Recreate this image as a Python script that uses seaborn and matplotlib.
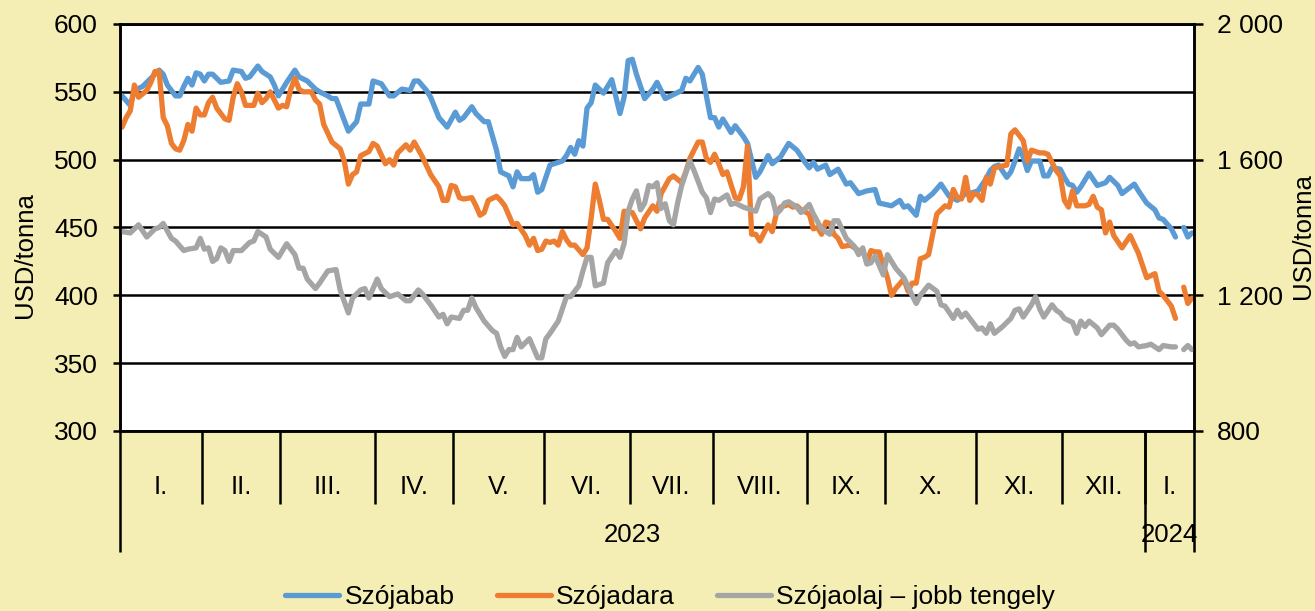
import numpy as np
import pandas as pd
import matplotlib
matplotlib.use('Agg')
import matplotlib.pyplot as plt
from matplotlib.lines import Line2D
import seaborn as sns

nan = np.nan

# x axis: trading days, grouped by month (Jan 2023 - mid Jan 2024)
month_labels = ['I.', 'II.', 'III.', 'IV.', 'V.', 'VI.', 'VII.', 'VIII.',
                'IX.', 'X.', 'XI.', 'XII.', 'I.']
month_days = [20, 19, 23, 19, 22, 21, 20, 23, 19, 22, 21, 20, 12]
year_labels = ['2023', '2024']
year_months = [12, 1]

# (trading day, USD/tonna) readings, nan = missing quote
szojabab = [
    (0, 547), (2, 540), (3, 551), (5, 554), (6, 557), (9, 566), (10, 563), (11, 555), (13, 547), (14, 547),
    (15, 554), (16, 560), (17, 555), (18, 564), (19, 563), (20, 558), (21, 563), (22, 563), (24, 557), (26, 558),
    (27, 566), (29, 565), (30, 560), (31, 561), (33, 569), (34, 565), (36, 561), (37, 555), (38, 547), (40, 557),
    (42, 566), (43, 561), (45, 558), (47, 552), (48, 550), (50, 547), (51, 545), (52, 545), (53, 537), (55, 521),
    (57, 528), (58, 541), (60, 541), (61, 558), (63, 556), (65, 547), (66, 547), (68, 552), (70, 551), (71, 558),
    (72, 558), (74, 551), (75, 546), (77, 531), (79, 524), (81, 535), (82, 529), (83, 531), (85, 539), (86, 534),
    (88, 528), (89, 528), (91, 507), (92, 491), (94, 488), (95, 480), (96, 491), (97, 486), (99, 486), (100, 489),
    (101, 476), (102, 478), (104, 496), (105, 497), (107, 499), (108, 503), (109, 509), (110, 504), (111, 514), (112, 510),
    (113, 538), (114, 542), (115, 555), (117, 549), (119, 559), (121, 534), (122, 546), (123, 573), (124, 574), (125, 563),
    (127, 545), (129, 552), (130, 557), (132, 545), (134, 548), (136, 551), (137, 560), (138, 558), (140, 568), (141, 563),
    (143, 531), (144, 531), (145, 524), (146, 530), (148, 520), (149, 525), (151, 517), (152, 512), (154, 487), (155, 491),
    (157, 503), (158, 497), (160, 502), (162, 512), (164, 507), (166, 498), (167, 494), (168, 498), (169, 493), (171, 496),
    (172, 489), (174, 493), (176, 482), (177, 483), (179, 475), (181, 477), (183, 478), (184, 468), (187, 466), (189, 470),
    (190, 465), (191, 466), (193, 459), (194, 473), (195, 470), (197, 475), (199, 482), (201, 473), (203, 470), (205, 475),
    (206, 475), (208, 477), (210, 486), (211, 492), (212, 495), (213, 496), (215, 487), (216, 491), (217, 499), (218, 508),
    (219, 502), (220, 492), (221, 499), (223, 499), (224, 488), (225, 488), (226, 494), (228, 493), (229, 487), (230, 482),
    (231, 481), (232, 476), (233, 480), (235, 490), (237, 481), (239, 483), (240, 487), (242, 481), (243, 475), (246, 482),
    (247, 477), (249, 468), (251, 463), (252, 457), (253, 456), (255, 449), (256, 443), (257, nan), (258, 450), (259, 443),
    (260, 446),
]

szojadara = [
    (0, 524), (1, 531), (2, 536), (3, 555), (4, 546), (6, 551), (7, 557), (8, 565), (9, 565), (10, 531),
    (11, 525), (12, 512), (13, 508), (14, 507), (15, 514), (16, 526), (17, 521), (18, 538), (19, 533), (20, 533),
    (21, 542), (22, 546), (23, 538), (25, 530), (26, 529), (27, 546), (28, 556), (29, 550), (30, 540), (32, 540),
    (33, 549), (34, 542), (35, 545), (36, 550), (38, 538), (39, 540), (40, 539), (41, 552), (42, 560), (43, 552),
    (44, 550), (46, 550), (47, 544), (48, 541), (49, 526), (51, 513), (53, 508), (54, 499), (55, 482), (56, 489),
    (57, 491), (58, 503), (60, 506), (61, 512), (62, 510), (64, 497), (65, 500), (66, 496), (67, 505), (69, 511),
    (70, 507), (71, 513), (73, 502), (75, 489), (77, 480), (78, 470), (79, 470), (80, 481), (81, 480), (82, 472),
    (83, 471), (85, 472), (86, 466), (87, 459), (88, 461), (89, 470), (91, 473), (92, 470), (93, 466), (95, 452),
    (96, 453), (98, 444), (99, 437), (100, 442), (101, 433), (102, 434), (103, 440), (104, 439), (105, 440), (106, 437),
    (107, 447), (108, 441), (109, 437), (110, 437), (112, 430), (113, 435), (114, 457), (115, 482), (116, 470), (117, 456),
    (118, 456), (120, 447), (121, 442), (122, 462), (124, 461), (125, 455), (126, 449), (127, 457), (129, 466), (130, 462),
    (131, 475), (133, 486), (134, 488), (136, 483), (137, 491), (138, 501), (140, 513), (141, 513), (142, 501), (143, 498),
    (144, 504), (145, 497), (146, 489), (147, 491), (149, 472), (150, 471), (151, 480), (152, 510), (153, 445), (154, 445),
    (155, 440), (156, 446), (157, 452), (158, 447), (159, 460), (160, 465), (162, 467), (163, 465), (164, 466), (165, 463),
    (167, 460), (168, 449), (169, 450), (170, 445), (171, 454), (172, 453), (173, 445), (174, 442), (175, 436), (177, 437),
    (179, 433), (180, 433), (181, 424), (182, 433), (183, 432), (184, 432), (186, 413), (187, 400), (188, 405), (190, 412),
    (191, 403), (192, 409), (193, 409), (194, 427), (195, 428), (196, 430), (197, 445), (198, 460), (200, 466), (201, 465),
    (202, 478), (203, 472), (204, 471), (205, 487), (206, 470), (207, 475), (208, 474), (209, 470), (210, 487), (211, 482),
    (212, 494), (215, 496), (216, 519), (217, 522), (219, 514), (220, 499), (221, 507), (223, 505), (224, 505), (225, 504),
    (227, 492), (228, 488), (229, 470), (230, 465), (231, 477), (232, 466), (234, 466), (235, 467), (236, 473), (237, 465),
    (238, 463), (239, 446), (240, 454), (241, 444), (243, 435), (245, 444), (247, 431), (249, 413), (251, 416), (252, 403),
    (253, 400), (255, 392), (256, 383), (257, nan), (258, 406), (259, 394), (260, 398),
]

# right axis
szojaolaj = [
    (0, 1388), (2, 1384), (4, 1408), (6, 1372), (8, 1396), (9, 1400), (10, 1412), (12, 1368), (13, 1360), (15, 1332),
    (16, 1336), (18, 1340), (19, 1368), (20, 1336), (21, 1340), (22, 1300), (23, 1308), (24, 1340), (25, 1332), (26, 1300),
    (27, 1332), (29, 1332), (31, 1356), (32, 1360), (33, 1388), (35, 1372), (36, 1336), (38, 1312), (40, 1352), (42, 1320),
    (43, 1280), (44, 1280), (45, 1248), (47, 1220), (48, 1236), (50, 1272), (52, 1276), (53, 1216), (55, 1148), (56, 1192),
    (58, 1216), (59, 1220), (60, 1192), (62, 1248), (63, 1220), (65, 1196), (67, 1204), (69, 1184), (70, 1184), (72, 1216),
    (73, 1204), (75, 1172), (77, 1136), (78, 1144), (79, 1116), (80, 1136), (82, 1132), (83, 1156), (84, 1156), (85, 1192),
    (86, 1164), (88, 1124), (90, 1096), (91, 1088), (92, 1048), (93, 1020), (94, 1040), (95, 1040), (96, 1076), (97, 1048),
    (98, 1060), (99, 1072), (101, 1016), (102, 1016), (103, 1072), (104, 1088), (106, 1124), (108, 1196), (109, 1196), (111, 1228),
    (112, 1272), (113, 1312), (114, 1312), (115, 1228), (117, 1236), (118, 1296), (120, 1332), (121, 1312), (122, 1352), (123, 1448),
    (124, 1484), (125, 1508), (126, 1452), (127, 1472), (128, 1524), (129, 1520), (130, 1532), (131, 1456), (132, 1470), (133, 1420),
    (134, 1408), (135, 1472), (136, 1524), (138, 1596), (139, 1568), (141, 1504), (142, 1488), (143, 1444), (144, 1484), (145, 1480),
    (147, 1496), (148, 1468), (149, 1472), (151, 1460), (153, 1452), (154, 1448), (155, 1484), (157, 1500), (158, 1488), (159, 1440),
    (160, 1452), (161, 1472), (162, 1476), (164, 1460), (165, 1444), (167, 1468), (168, 1440), (170, 1396), (171, 1388), (172, 1380),
    (173, 1420), (174, 1420), (176, 1368), (178, 1344), (179, 1320), (180, 1340), (181, 1292), (182, 1296), (183, 1316), (185, 1260),
    (186, 1320), (188, 1280), (190, 1252), (192, 1200), (193, 1176), (194, 1200), (196, 1230), (198, 1212), (199, 1172), (200, 1168),
    (202, 1132), (203, 1156), (204, 1136), (205, 1148), (206, 1132), (208, 1100), (209, 1104), (210, 1088), (211, 1116), (212, 1088),
    (214, 1108), (216, 1132), (217, 1156), (218, 1160), (219, 1136), (221, 1172), (222, 1196), (223, 1160), (224, 1136), (226, 1172),
    (227, 1156), (228, 1148), (229, 1132), (231, 1120), (232, 1088), (233, 1124), (234, 1108), (235, 1124), (237, 1104), (238, 1084),
    (240, 1112), (241, 1112), (242, 1100), (244, 1068), (245, 1056), (246, 1060), (247, 1048), (249, 1052), (250, 1056), (252, 1040),
    (253, 1052), (255, 1048), (256, 1048), (257, nan), (258, 1040), (259, 1052), (260, 1040),
]


def to_frame(rows):
    df = pd.DataFrame(rows, columns=['nap', 'ar'])
    # a missing quote breaks the line into separate pieces
    df['szakasz'] = df['ar'].isna().cumsum()
    return df.dropna()


sns.set_style('white')
plt.rcParams['font.family'] = ['Liberation Sans', 'DejaVu Sans']
plt.rcParams['font.size'] = 18
plt.rcParams['text.color'] = 'black'
plt.rcParams['xtick.color'] = 'black'
plt.rcParams['ytick.color'] = 'black'
plt.rcParams['axes.labelcolor'] = 'black'

bg = '#F5EEB4'
W, H = 1315, 611
fig = plt.figure(figsize=(W / 100, H / 100), dpi=100, facecolor=bg)
ax = fig.add_axes([120 / W, 1 - 431 / H, (1194 - 120) / W, (431 - 24) / H])
ax.set_facecolor('white')
ax2 = ax.twinx()

lw = 3.8
line_kw = dict(estimator=None, units='szakasz', linewidth=lw,
               solid_joinstyle='round', solid_capstyle='round')
colors = ['#5B9BD5', '#ED7D31', '#A5A5A5']
sns.lineplot(data=to_frame(szojabab), x='nap', y='ar', color=colors[0], ax=ax, **line_kw)
sns.lineplot(data=to_frame(szojadara), x='nap', y='ar', color=colors[1], ax=ax, **line_kw)
sns.lineplot(data=to_frame(szojaolaj), x='nap', y='ar', color=colors[2], ax=ax2, **line_kw)

edges = np.cumsum([0] + month_days) - 0.5
ax.set_xlim(edges[0], edges[-1])
ax.set_ylim(300, 600)
ax2.set_ylim(800, 2000)
ax.set_yticks(range(300, 601, 50))
ax2.set_yticks([800, 1200, 1600, 2000])
ax2.set_yticklabels([f'{v:,}'.replace(',', ' ') for v in [800, 1200, 1600, 2000]])

ax.yaxis.grid(True, color='black', linewidth=1.8)
for a in (ax, ax2):
    for s in a.spines.values():
        s.set_color('black')
        s.set_linewidth(1.8)
    a.set_xlabel('')
    a.set_ylabel('')
ax.tick_params(axis='y', left=True, length=5, width=1.8, pad=11, labelsize=19,
               colors='black')
ax2.tick_params(axis='y', right=True, length=6.5, width=1.8, pad=10, labelsize=19,
                colors='black')

# month separators as minor ticks, labels as plain text
ax.set_xticks([])
ax.set_xticks(edges[1:-1], minor=True)
ax.tick_params(axis='x', which='minor', bottom=True, direction='out',
               length=52.5, width=1.8, color='black')
trans = ax.get_xaxis_transform()
centers = (edges[:-1] + edges[1:]) / 2
for c, lab in zip(centers, month_labels):
    ax.text(c, -0.1376, lab, transform=trans, ha='center', va='center', fontsize=18.5)

year_idx = np.cumsum([0] + year_months)
year_edges = edges[year_idx]
ax.vlines(year_edges, -0.2973, 0, transform=trans, colors='black',
          linewidth=1.8, clip_on=False)
for lo, hi, lab in zip(year_edges[:-1], year_edges[1:], year_labels):
    ax.text((lo + hi) / 2, -0.2555, lab, transform=trans, ha='center', va='center', fontsize=18.5)

fig.text(25 / W, 1 - 255 / H, 'USD/tonna', rotation=90, ha='center', va='center', fontsize=18.5)
fig.text(1303 / W, 1 - 236 / H, 'USD/tonna', rotation=90, ha='center', va='center', fontsize=18.5)

handles = [Line2D([0], [0], color=c, linewidth=lw, solid_capstyle='round') for c in colors]
fig.legend(handles, ['Szójabab', 'Szójadara', 'Szójaolaj – jobb tengely'],
           loc='center left', bbox_to_anchor=(285 / W, 1 - 597 / H), ncol=3,
           frameon=False, fontsize=19, handlelength=2.05, handletextpad=0.2,
           columnspacing=1.6, borderpad=0, borderaxespad=0)

fig.savefig('out.png', dpi=100, facecolor=bg)
